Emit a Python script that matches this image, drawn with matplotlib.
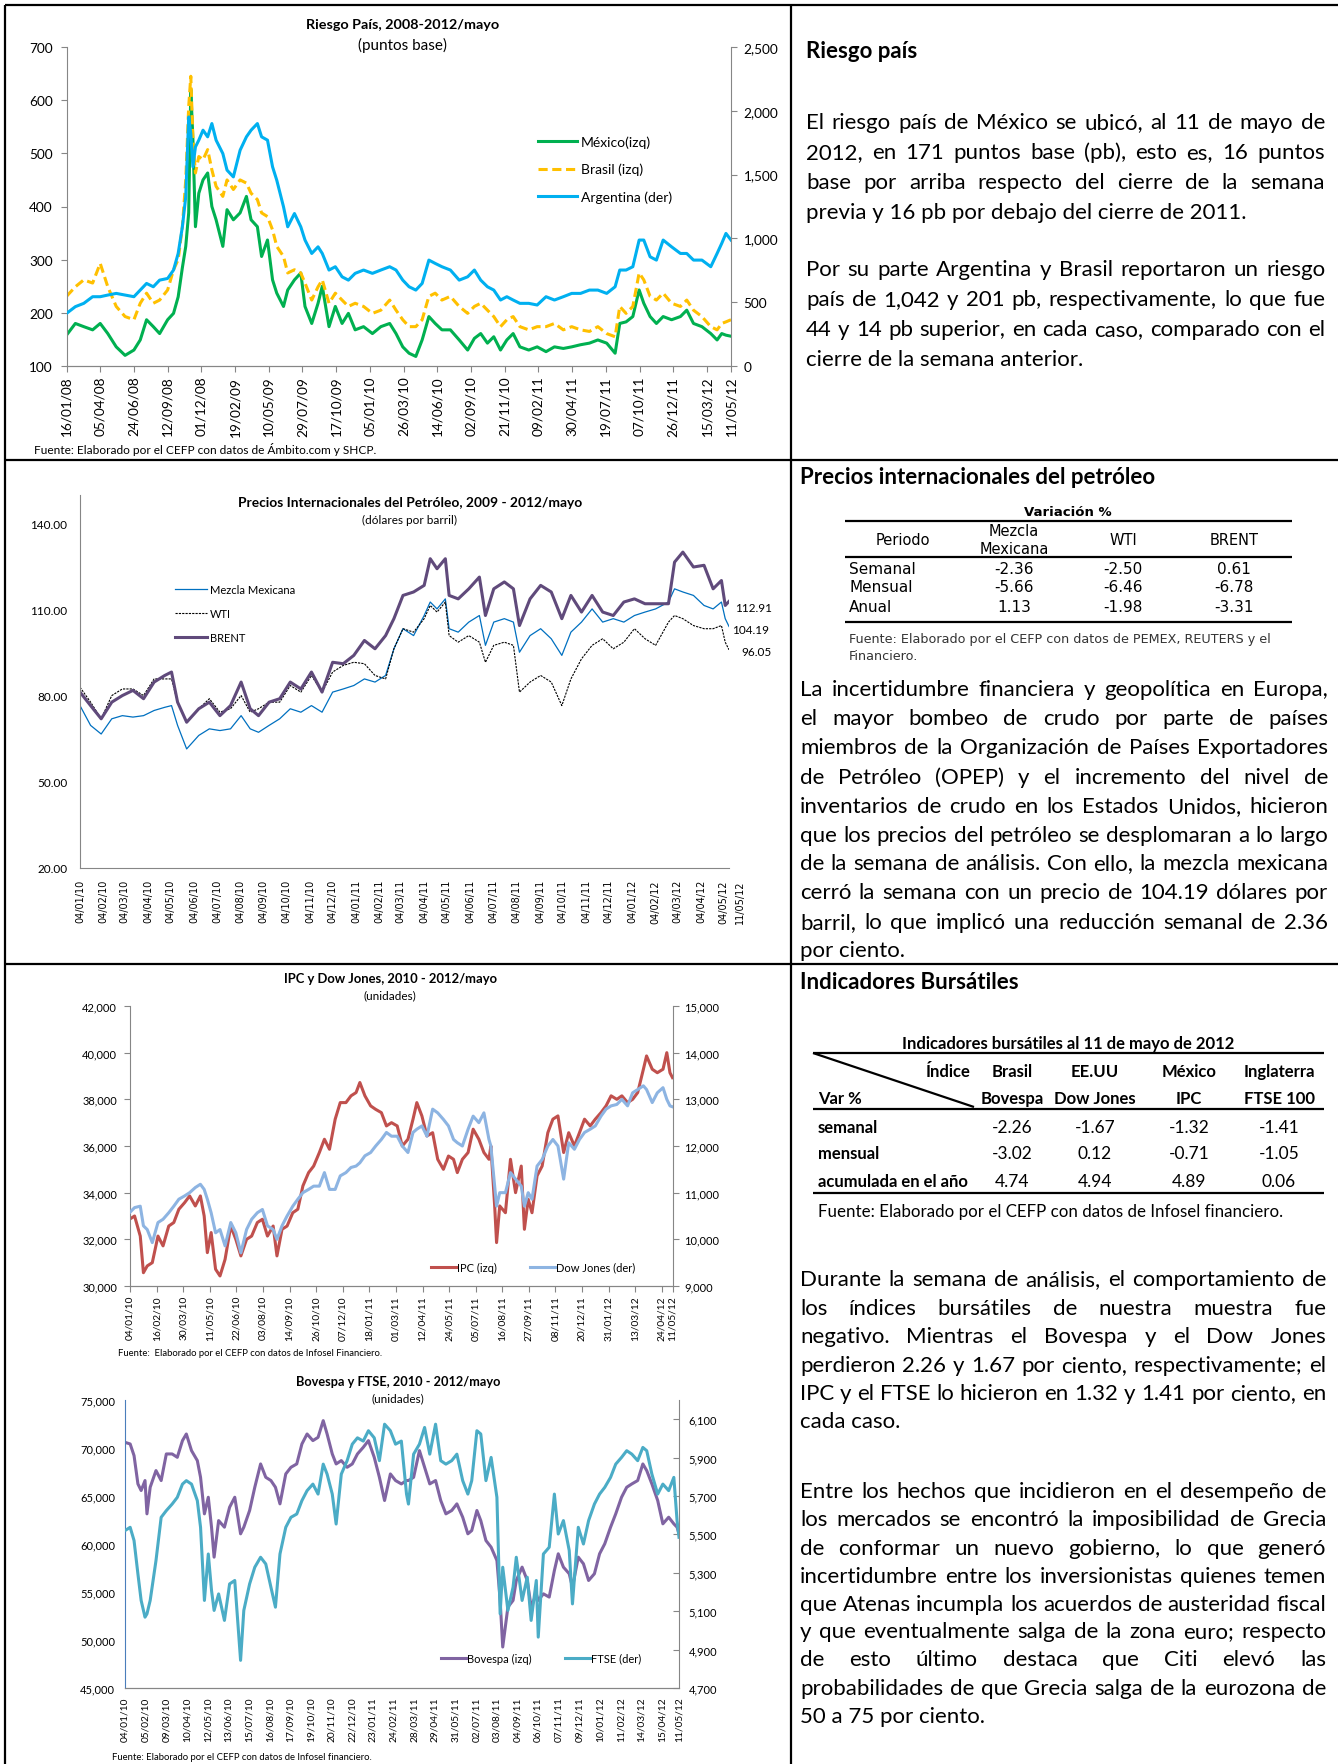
import numpy as np
import pandas as pd
import matplotlib
matplotlib.use('Agg')
import matplotlib.pyplot as plt
import matplotlib.transforms as mtransforms
from matplotlib.lines import Line2D
from matplotlib.ticker import FuncFormatter

W, H = 1338, 1765
GRIS = '#868686'
plt.rcParams.update({'font.family': 'Lato', 'font.size': 9, 'axes.linewidth': 0.8})

# ---------------- datos: riesgo pais (dias desde 16/01/08) ----------------
inicio_rp = '2008-01-16'
dias_rp = [0, 21, 41, 62, 80, 98, 118, 139, 160, 175, 190, 206, 221, 240, 254, 265, 275, 283, 290, 295,
           300, 306, 314, 324, 335, 345, 355, 371, 381, 396, 412, 427, 438, 453, 463, 477, 489, 499, 515, 525,
           541, 556, 566, 582, 597, 607, 623, 638, 654, 669, 685, 705, 726, 746, 767, 782, 798, 813, 829, 844,
           860, 875, 891, 911, 932, 952, 968, 983, 999, 1014, 1030, 1045, 1060, 1076, 1097, 1117, 1138, 1158, 1179, 1199,
           1220, 1241, 1261, 1282, 1302, 1313, 1328, 1344, 1359, 1370, 1385, 1400, 1416, 1436, 1457, 1472, 1488, 1508, 1529, 1544,
           1555, 1565, 1577]
mexico = [158, 180, 174, 168, 180, 161, 136, 120, 130, 149, 187, 174, 161, 187, 199, 230, 285, 325, 388, 620,
          526, 362, 425, 450, 463, 400, 375, 325, 394, 375, 388, 419, 375, 362, 306, 337, 262, 237, 212, 243,
          262, 275, 212, 180, 218, 250, 174, 212, 180, 199, 168, 174, 161, 174, 180, 161, 136, 124, 118, 149,
          193, 180, 168, 168, 149, 130, 152, 161, 143, 155, 130, 149, 161, 136, 130, 136, 127, 136, 133, 136,
          140, 143, 149, 143, 124, 180, 183, 193, 243, 218, 193, 180, 193, 187, 193, 205, 180, 174, 161, 149,
          161, 158, 156]
brasil = [231, 249, 262, 256, 293, 249, 212, 193, 187, 218, 237, 218, 224, 243, 281, 300, 362, 450, 588, 645,
          526, 463, 494, 488, 507, 469, 438, 419, 450, 432, 450, 444, 425, 413, 388, 381, 356, 325, 306, 275,
          281, 275, 256, 224, 249, 262, 218, 237, 224, 212, 218, 212, 199, 205, 224, 205, 187, 174, 174, 187,
          231, 237, 224, 231, 212, 199, 212, 218, 205, 193, 174, 187, 193, 174, 168, 174, 174, 180, 168, 174,
          168, 165, 174, 161, 155, 212, 199, 212, 275, 262, 231, 224, 237, 218, 212, 224, 205, 193, 174, 168,
          180, 183, 187]
argentina = [412, 465, 491, 543, 543, 556, 569, 556, 543, 595, 647, 621, 673, 686, 752, 882, 1091, 1326, 1952, 1822,
             1561, 1717, 1770, 1848, 1796, 1900, 1770, 1665, 1535, 1482, 1691, 1796, 1848, 1900, 1796, 1770, 1561, 1456, 1248, 1091,
             1195, 1091, 987, 882, 934, 882, 752, 778, 699, 673, 726, 752, 726, 752, 778, 752, 673, 621, 595, 647,
             830, 804, 778, 752, 673, 699, 752, 673, 621, 595, 517, 543, 517, 491, 491, 478, 543, 517, 543, 569,
             569, 595, 595, 569, 621, 752, 752, 778, 987, 987, 856, 830, 987, 934, 882, 882, 830, 830, 778, 882,
             961, 1039, 987]
ticks_rp = ['16/01/08', '05/04/08', '24/06/08', '12/09/08', '01/12/08', '19/02/09', '10/05/09', '29/07/09',
            '17/10/09', '05/01/10', '26/03/10', '14/06/10', '02/09/10', '21/11/10', '09/02/11', '30/04/11',
            '19/07/11', '07/10/11', '26/12/11', '15/03/12', '11/05/12']

# ---------------- datos: petroleo (dias desde 04/01/10) ----------------
inicio_pet = '2010-01-04'
dias_pet = [0, 14, 28, 42, 56, 70, 84, 98, 112, 121, 129, 141, 157, 171, 185, 199, 213, 225, 236, 250,
            264, 278, 292, 306, 320, 334, 348, 362, 376, 390, 404, 415, 427, 441, 455, 463, 472, 483, 488, 500,
            514, 528, 536, 547, 561, 573, 581, 595, 609, 623, 637, 649, 663, 677, 691, 705, 719, 733, 747, 761,
            778, 786, 797, 811, 825, 837, 848, 853, 858]
mezcla = [76.6, 69.7, 66.7, 72.0, 73.1, 72.6, 73.1, 74.9, 76.0, 76.6, 69.7, 61.5, 66.2, 68.5, 67.9, 68.5, 73.1, 68.5, 67.3, 69.7,
          72.0, 75.5, 74.3, 76.6, 74.3, 81.3, 82.4, 83.6, 85.9, 84.8, 87.1, 96.4, 103.4, 101.0, 108.0, 112.7, 110.3, 113.8, 103.4, 102.2,
          105.7, 108.0, 97.6, 105.7, 106.9, 105.7, 95.2, 101.0, 103.4, 99.9, 94.1, 102.2, 105.7, 110.3, 105.7, 106.9, 105.7, 108.0, 109.2, 110.3,
          112.7, 117.3, 116.2, 115.0, 111.5, 110.3, 112.7, 106.9, 104.19]
wti = [83.0, 77.8, 72.0, 80.1, 82.4, 82.4, 80.1, 85.9, 85.9, 85.9, 77.8, 70.8, 75.5, 79.0, 74.3, 75.5, 80.1, 74.3, 75.5, 77.8,
       77.8, 83.6, 81.3, 87.1, 81.3, 88.3, 90.6, 91.7, 91.2, 87.1, 85.9, 96.4, 103.4, 102.2, 106.9, 111.5, 109.2, 112.7, 101.0, 98.7,
       101.0, 98.7, 91.7, 97.6, 98.7, 97.6, 81.3, 84.8, 87.1, 84.8, 76.6, 85.9, 92.9, 97.6, 99.9, 96.4, 98.7, 103.4, 99.9, 97.6,
       105.7, 108.0, 106.9, 104.5, 103.4, 103.4, 104.5, 98.7, 96.05]
brent = [81.3, 76.6, 72.0, 77.8, 80.1, 81.9, 79.0, 84.8, 87.1, 88.3, 77.8, 70.8, 75.5, 77.8, 73.1, 76.6, 84.8, 75.5, 73.1, 77.8,
         79.0, 84.8, 82.4, 88.3, 81.3, 91.7, 91.2, 94.1, 99.3, 96.4, 101.0, 106.9, 115.0, 116.2, 118.5, 127.8, 124.3, 127.8, 115.0, 113.8,
         117.3, 121.4, 108.0, 117.3, 119.7, 117.3, 104.5, 113.8, 118.5, 116.2, 106.9, 115.0, 109.2, 115.0, 109.2, 108.0, 112.7, 113.8, 112.1, 112.1,
         112.1, 126.6, 130.1, 124.9, 125.5, 117.3, 120.2, 111.5, 112.91]
ticks_pet = ['04/01/10', '04/02/10', '04/03/10', '04/04/10', '04/05/10', '04/06/10', '04/07/10', '04/08/10',
             '04/09/10', '04/10/10', '04/11/10', '04/12/10', '04/01/11', '04/02/11', '04/03/11', '04/04/11',
             '04/05/11', '04/06/11', '04/07/11', '04/08/11', '04/09/11', '04/10/11', '04/11/11', '04/12/11',
             '04/01/12', '04/02/12', '04/03/12', '04/04/12', '04/05/12', '11/05/12']

# ---------------- datos: IPC y Dow Jones ----------------
dias_ipc = [0, 8, 17, 22, 28, 36, 45, 53, 62, 70, 78, 87, 95, 104, 112, 118, 123, 129, 136, 143,
            151, 160, 168, 176, 185, 193, 202, 210, 218, 227, 233, 241, 249, 258, 266, 274, 283, 291, 300, 308,
            316, 325, 333, 342, 350, 358, 364, 372, 381, 389, 398, 406, 414, 423, 431, 440, 448, 454, 462, 470,
            479, 487, 496, 504, 512, 518, 526, 535, 543, 552, 560, 568, 571, 577, 580, 585, 594, 602, 610, 619,
            624, 630, 636, 644, 652, 661, 669, 677, 686, 694, 703, 711, 719, 728, 736, 745, 753, 761, 770, 778,
            787, 795, 803, 812, 817, 826, 834, 843, 849, 854, 858]
ipc = [32860, 33000, 32140, 30570, 30860, 31000, 32140, 31720, 32570, 32720, 33290, 33570, 33860, 33430, 33860, 33000, 31430, 32290, 30720, 30430,
       31140, 32570, 32000, 31290, 32000, 32140, 32720, 32860, 32140, 32570, 31290, 32430, 32570, 33140, 33290, 34290, 34860, 35140, 35720, 36290,
       35860, 37150, 37860, 37860, 38150, 38290, 38720, 38150, 37720, 37570, 37430, 36860, 37000, 36860, 36000, 36290, 37150, 37860, 37290, 36430,
       36570, 35430, 35000, 35570, 35430, 34860, 35430, 35720, 36720, 36290, 35720, 35430, 36000, 33430, 31860, 33430, 33140, 35430, 34000, 35140,
       32430, 33720, 33140, 34720, 35140, 36570, 37150, 37290, 35720, 36570, 36000, 36570, 37150, 36860, 37150, 37430, 37720, 38150, 38000, 38150,
       37860, 38000, 38290, 39290, 39860, 39290, 39140, 39290, 40000, 39140, 38930]
dow = [10570, 10680, 10710, 10290, 10210, 9930, 10360, 10430, 10570, 10710, 10860, 10930, 11000, 11110, 11180, 11070, 10860, 10570, 10140, 10210,
       9860, 10360, 10140, 9710, 10210, 10430, 10570, 10640, 10290, 10210, 10000, 10290, 10500, 10710, 10860, 11000, 11070, 11140, 11140, 11430,
       11070, 11070, 11360, 11430, 11540, 11570, 11640, 11790, 11860, 12000, 12140, 12290, 12210, 12210, 12000, 11860, 12290, 12360, 12430, 12210,
       12790, 12710, 12570, 12430, 12140, 12070, 12000, 12360, 12640, 12500, 12710, 12140, 12000, 11140, 10710, 11000, 11000, 11430, 11290, 11140,
       10710, 11000, 10860, 11570, 11710, 12000, 12140, 12000, 11290, 12070, 11930, 12140, 12290, 12360, 12430, 12640, 12790, 12860, 12890, 13000,
       12860, 13140, 13210, 13290, 13210, 12930, 13140, 13250, 13000, 12860, 12840]
ticks_ipc = ['04/01/10', '16/02/10', '30/03/10', '11/05/10', '22/06/10', '03/08/10', '14/09/10', '26/10/10',
             '07/12/10', '18/01/11', '01/03/11', '12/04/11', '24/05/11', '05/07/11', '16/08/11', '27/09/11',
             '08/11/11', '20/12/11', '31/01/12', '13/03/12', '24/04/12', '11/05/12']

# ---------------- datos: Bovespa y FTSE ----------------
dias_bov = [0, 8, 14, 20, 25, 31, 34, 39, 48, 56, 64, 73, 81, 89, 95, 103, 112, 117, 123, 129,
            134, 138, 145, 154, 162, 170, 179, 184, 193, 201, 210, 218, 226, 233, 240, 249, 257, 266, 274, 282,
            291, 299, 307, 313, 321, 327, 335, 344, 352, 360, 369, 377, 386, 394, 402, 411, 419, 428, 436, 439,
            447, 456, 464, 472, 481, 489, 497, 506, 514, 523, 531, 537, 545, 551, 559, 567, 576, 581, 585, 593,
            601, 606, 615, 623, 629, 637, 640, 648, 657, 665, 671, 679, 688, 693, 702, 710, 718, 727, 735, 743,
            752, 760, 769, 777, 785, 794, 802, 808, 816, 825, 833, 842, 850, 855, 858]
bovespa = [70590, 70420, 69210, 66260, 65570, 66610, 63140, 65910, 67650, 66610, 69380, 69380, 69030, 70770, 71460, 69730, 68690, 66950, 63140, 64870,
           61750, 58630, 62440, 61750, 63830, 64870, 61060, 61750, 63490, 65910, 68340, 66950, 66610, 65910, 64180, 67300, 67990, 68340, 70420, 71460,
           70770, 71110, 72850, 71460, 69380, 68340, 68690, 67990, 68340, 69380, 70070, 70770, 69030, 66950, 64530, 67300, 66610, 66260, 66610, 66610,
           66950, 69730, 67990, 66260, 66610, 64530, 63140, 63490, 64180, 62790, 61060, 61400, 63490, 62440, 60360, 59670, 58280, 54120, 49270, 53430,
           54120, 56200, 57590, 56200, 53430, 54810, 54120, 54810, 54470, 57240, 58980, 57590, 56900, 55510, 58630, 57940, 56200, 56900, 58980, 60020,
           61750, 63140, 64870, 65910, 66260, 66610, 68340, 67650, 66260, 64530, 62100, 62790, 62100, 61750, 61060]
ftse = [5520, 5537, 5468, 5294, 5156, 5069, 5086, 5156, 5364, 5589, 5624, 5658, 5693, 5762, 5780, 5762, 5676, 5537, 5156, 5398,
        5208, 5104, 5190, 5052, 5242, 5260, 4844, 5104, 5242, 5329, 5381, 5346, 5225, 5121, 5398, 5537, 5589, 5606, 5676, 5728,
        5762, 5710, 5866, 5814, 5710, 5554, 5814, 5884, 5970, 6003, 5986, 6040, 6003, 5884, 6074, 6040, 5970, 5986, 5710, 5658,
        5918, 5970, 6057, 5918, 6074, 5884, 5866, 5884, 5918, 5780, 5710, 5780, 6040, 6023, 5780, 5901, 5693, 5086, 5329, 5104,
        5225, 5381, 5156, 5277, 5052, 5260, 4965, 5398, 5433, 5710, 5502, 5572, 5416, 5138, 5537, 5450, 5572, 5658, 5710, 5745,
        5797, 5866, 5901, 5936, 5918, 5884, 5953, 5936, 5814, 5710, 5762, 5728, 5797, 5572, 5485]
ticks_bov = ['04/01/10', '05/02/10', '09/03/10', '10/04/10', '12/05/10', '13/06/10', '15/07/10', '16/08/10',
             '17/09/10', '19/10/10', '20/11/10', '22/12/10', '23/01/11', '24/02/11', '28/03/11', '29/04/11',
             '31/05/11', '02/07/11', '03/08/11', '04/09/11', '06/10/11', '07/11/11', '09/12/11', '10/01/12',
             '11/02/12', '14/03/12', '15/04/12', '11/05/12']

# ---------------- tablas ----------------
pet_filas = ['Semanal', 'Mensual', 'Anual']
pet_mezcla = ['-2.36', '-5.66', '1.13']
pet_wti = ['-2.50', '-6.46', '-1.98']
pet_brent = ['0.61', '-6.78', '-3.31']

bur_paises = ['Brasil', 'EE.UU', 'México', 'Inglaterra']
bur_indices = ['Bovespa', 'Dow Jones', 'IPC', 'FTSE 100']
bur_filas = ['semanal', 'mensual', 'acumulada en el año']
bur_valores = [['-2.26', '-1.67', '-1.32', '-1.41'],
               ['-3.02', '0.12', '-0.71', '-1.05'],
               ['4.74', '4.94', '4.89', '0.06']]

fig = plt.figure(figsize=(W / 100, H / 100), dpi=100)
fig.patch.set_facecolor('white')
renderer = fig.canvas.get_renderer()


def caja(x0, y0, x1, y1):
    return [x0 / W, 1 - y1 / H, (x1 - x0) / W, (y1 - y0) / H]


def texto(x, y, s, **kw):
    return fig.text(x / W, 1 - y / H, s, **kw)


def linea(x0, y0, x1, y1, lw=1.5, color='black'):
    fig.add_artist(Line2D([x0 / W, x1 / W], [1 - y0 / H, 1 - y1 / H], transform=fig.transFigure,
                          color=color, lw=lw, solid_capstyle='butt'))


def fechas(inicio, dias):
    return pd.Timestamp(inicio) + pd.to_timedelta(dias, unit='D')


def eje_fechas(ax, etiquetas, size, pad, largo, familia='Lato'):
    ax.set_xticks(pd.to_datetime(etiquetas, format='%d/%m/%y'))
    ax.set_xticklabels(etiquetas, rotation=90, fontsize=size, family=familia)
    ax.tick_params(axis='x', pad=pad, length=largo, color=GRIS)


def leyenda(ax, handles, x, y, size, **kw):
    ax.legend(handles=handles, loc='upper left', bbox_to_anchor=(x / W, 1 - y / H),
              bbox_transform=fig.transFigure, frameon=False, borderpad=0, borderaxespad=0,
              fontsize=size, **kw)


miles = FuncFormatter(lambda v, p: f'{v:,.0f}')

# ================= grafica 1: riesgo pais =================
ax1 = fig.add_axes(caja(66.5, 48, 731, 367))
ax1b = ax1.twinx()
x_rp = fechas(inicio_rp, dias_rp)
l1, = ax1.plot(x_rp, mexico, color='#00B050', lw=2.2, label='México(izq)')
l2, = ax1.plot(x_rp, brasil, color='#FFC000', lw=2.2, ls=(0, (3, 1.5)), label='Brasil (izq)')
l3, = ax1b.plot(x_rp, argentina, color='#00B0F0', lw=2.2, label='Argentina (der)')
ax1.set_xlim(pd.Timestamp('2008-01-16'), pd.Timestamp('2012-05-11'))
ax1.set_ylim(100, 700)
ax1b.set_ylim(0, 2500)
ax1.set_yticks(range(100, 701, 100))
ax1b.set_yticks(range(0, 2501, 500))
ax1b.yaxis.set_major_formatter(miles)
eje_fechas(ax1, ticks_rp, 9.8, 3, 4)
for a in (ax1, ax1b):
    for s in a.spines.values():
        s.set_color(GRIS)
    a.spines['top'].set_visible(False)
ax1.spines['right'].set_visible(False)
ax1b.spines['left'].set_visible(False)
ax1.tick_params(axis='y', length=4, color=GRIS, labelsize=9.8, pad=6)
ax1b.tick_params(axis='y', length=4, color=GRIS, labelsize=9.8, pad=5)
leyenda(ax1b, [l1, l2, l3], 538, 136, 10, handlelength=2.8, handletextpad=0.3, labelspacing=1.1)
texto(403, 25, 'Riesgo País, 2008-2012/mayo', fontsize=10.4, fontweight='bold', ha='center', va='center')
texto(403, 45, '(puntos base)', fontsize=11, ha='center', va='center')
texto(34, 449, 'Fuente: Elaborado por el CEFP con datos de Ámbito.com y SHCP.', fontsize=8.6, va='center')

# ================= grafica 2: petroleo =================
ax2 = fig.add_axes(caja(80, 496, 729, 869))
x_pet = fechas(inicio_pet, dias_pet)
p1, = ax2.plot(x_pet, mezcla, color='#0070C0', lw=0.9, label='Mezcla Mexicana')
p2, = ax2.plot(x_pet, wti, color='black', lw=0.8, ls=(0, (2, 1)), label='WTI')
p3, = ax2.plot(x_pet, brent, color='#604A7B', lw=2.2, label='BRENT')
ax2.set_xlim(pd.Timestamp('2010-01-04'), pd.Timestamp('2012-05-11'))
ax2.set_ylim(20, 150)
ax2.set_yticks([20, 50, 80, 110, 140])
ax2.yaxis.set_major_formatter(FuncFormatter(lambda v, p: f'{v:.2f}'))
eje_fechas(ax2, ticks_pet, 7, 8, 0, familia='DejaVu Sans')
ax2.tick_params(axis='y', length=0, labelsize=8.5, pad=9)
for s in ('top', 'right'):
    ax2.spines[s].set_visible(False)
for s in ('left', 'bottom'):
    ax2.spines[s].set_color(GRIS)
ult = ax2.get_xticklabels()[-1]
ult.set_transform(ult.get_transform() + mtransforms.ScaledTranslation(11 / 100, 0, fig.dpi_scale_trans))
for serie, dx, dy in ((brent, 6, -6), (mezcla, 3, -3), (wti, 12, -2)):
    ax2.annotate(f'{serie[-1]:.2f}', xy=(x_pet[-1], serie[-1]), xytext=(dx, dy), textcoords='offset pixels',
                 fontsize=8.5, va='center', ha='left')
leyenda(ax2, [p1, p2, p3], 175, 584.5, 8, handlelength=2.9, handletextpad=0.27, labelspacing=1.2)
texto(410, 503, 'Precios Internacionales del Petróleo, 2009 - 2012/mayo', fontsize=9.9, fontweight='bold',
      ha='center', va='center')
texto(410, 520, '(dólares por barril)', fontsize=8.5, ha='center', va='center')

# ================= grafica 3: IPC y Dow Jones =================
ax3 = fig.add_axes(caja(129.5, 1007, 672.5, 1287))
ax3b = ax3.twinx()
x_ipc = fechas(inicio_pet, dias_ipc)
i1, = ax3.plot(x_ipc, ipc, color='#C0504D', lw=2.2, label='IPC (izq)')
i2, = ax3b.plot(x_ipc, dow, color='#8DB4E2', lw=2.2, label='Dow Jones (der)')
ax3.set_xlim(pd.Timestamp('2010-01-04'), pd.Timestamp('2012-05-11'))
ax3.set_ylim(30000, 42000)
ax3b.set_ylim(9000, 15000)
ax3.set_yticks(range(30000, 42001, 2000))
ax3b.set_yticks(range(9000, 15001, 1000))
ax3.yaxis.set_major_formatter(miles)
ax3b.yaxis.set_major_formatter(miles)
eje_fechas(ax3, ticks_ipc, 7.3, 2.5, 4)
for a in (ax3, ax3b):
    for s in a.spines.values():
        s.set_color(GRIS)
    a.spines['top'].set_visible(False)
ax3.spines['right'].set_visible(False)
ax3b.spines['left'].set_visible(False)
ax3.tick_params(axis='y', length=4, color=GRIS, labelsize=8, pad=5)
ax3b.tick_params(axis='y', length=4, color=GRIS, labelsize=8, pad=4.5)
leyenda(ax3b, [i1, i2], 431, 1262.5, 8, ncol=2, handlelength=2.25, handletextpad=0.1, columnspacing=3.0)
texto(390, 979, 'IPC y Dow Jones, 2010 - 2012/mayo', fontsize=9.4, fontweight='bold', ha='center', va='center')
texto(390, 996, '(unidades)', fontsize=8.5, ha='center', va='center')
texto(118, 1354, 'Fuente:  Elaborado por el CEFP con datos de Infosel Financiero.', fontsize=6.8, va='center')

# ================= grafica 4: Bovespa y FTSE =================
ax4 = fig.add_axes(caja(125, 1401, 679, 1689))
ax4b = ax4.twinx()
x_bov = fechas(inicio_pet, dias_bov)
b1, = ax4.plot(x_bov, bovespa, color='#8064A2', lw=2.2, label='Bovespa (izq)')
b2, = ax4b.plot(x_bov, ftse, color='#4BACC6', lw=2.2, label='FTSE (der)')
ax4.set_xlim(pd.Timestamp('2010-01-04'), pd.Timestamp('2012-05-11'))
ax4.set_ylim(45000, 75000)
ax4b.set_ylim(4700, 6200)
ax4.set_yticks(range(45000, 75001, 5000))
ax4b.set_yticks(range(4700, 6101, 200))
ax4.yaxis.set_major_formatter(miles)
ax4b.yaxis.set_major_formatter(miles)
eje_fechas(ax4, ticks_bov, 7.3, 6, 0)
for a in (ax4, ax4b):
    for s in a.spines.values():
        s.set_color(GRIS)
    a.spines['top'].set_visible(False)
ax4.spines['right'].set_visible(False)
ax4b.spines['left'].set_visible(False)
ax4.spines['left'].set_color('#4A7EBB')
ax4.tick_params(axis='y', length=0, labelsize=8, pad=7)
ax4b.tick_params(axis='y', length=4, direction='in', color=GRIS, labelsize=8, pad=7)
leyenda(ax4b, [b1, b2], 441, 1653.5, 8, ncol=2, handlelength=2.25, handletextpad=0.1, columnspacing=3.0)
texto(398, 1382, 'Bovespa y FTSE, 2010 - 2012/mayo', fontsize=9.2, fontweight='bold', ha='center', va='center')
texto(398, 1399, '(unidades)', fontsize=8.5, ha='center', va='center')
texto(112, 1758, 'Fuente: Elaborado por el CEFP con datos de Infosel financiero.', fontsize=6.8, va='center')


# ================= columna de texto =================
CUERPO = 16


def parrafo(lineas, x0, x1, centros, size=CUERPO):
    for i, (ln, yc) in enumerate(zip(lineas, centros)):
        yb = yc + 7
        if i == len(lineas) - 1:
            texto(x0, yb, ln, fontsize=size, va='baseline')
            continue
        palabras = ln.split()
        tam = size
        while True:
            arts = [texto(x0, yb, p, fontsize=tam, va='baseline') for p in palabras]
            anchos = [a.get_window_extent(renderer).width for a in arts]
            hueco = (x1 - x0 - sum(anchos)) / (len(palabras) - 1)
            if hueco >= 3.5 or tam < 10:
                break
            for a in arts:
                a.remove()
            tam -= 0.25
        x = x0
        for a, w in zip(arts, anchos):
            a.set_x(x / W)
            x += w + hueco


texto(806, 52, 'Riesgo país', fontsize=CUERPO, fontweight='bold', va='center')
parrafo(['El riesgo país de México se ubicó, al 11 de mayo de',
         '2012, en 171 puntos base (pb), esto es, 16 puntos',
         'base por arriba respecto del cierre de la semana',
         'previa y 16 pb por debajo del cierre de 2011.'], 806, 1325, [122, 152, 182, 212])
parrafo(['Por su parte Argentina y Brasil reportaron un riesgo',
         'país de 1,042 y 201 pb, respectivamente, lo que fue',
         '44 y 14 pb superior, en cada caso, comparado con el',
         'cierre de la semana anterior.'], 806, 1325, [269, 299, 329, 359])

# tabla petroleo
texto(800, 478, 'Precios internacionales del petróleo', fontsize=CUERPO, fontweight='bold', va='center')
TF = 'DejaVu Sans'
texto(1068, 513, 'Variación %', family=TF, fontsize=9.5, fontweight='bold', ha='center', va='center')
linea(845, 522, 1292, 522, lw=1.6)
texto(903, 541, 'Periodo', family=TF, fontsize=10.5, ha='center', va='center')
texto(1014, 532, 'Mezcla', family=TF, fontsize=10.5, ha='center', va='center')
texto(1014, 550, 'Mexicana', family=TF, fontsize=10.5, ha='center', va='center')
texto(1123, 541, 'WTI', family=TF, fontsize=10.5, ha='center', va='center')
texto(1234, 541, 'BRENT', family=TF, fontsize=10.5, ha='center', va='center')
linea(845, 558, 1292, 558, lw=1.6)
for fila, a, b, c, y in zip(pet_filas, pet_mezcla, pet_wti, pet_brent, [569, 588, 607]):
    texto(849, y, fila, family=TF, fontsize=11, va='center')
    texto(1014, y, a, family=TF, fontsize=11, ha='center', va='center')
    texto(1123, y, b, family=TF, fontsize=11, ha='center', va='center')
    texto(1234, y, c, family=TF, fontsize=11, ha='center', va='center')
linea(845, 623, 1292, 623, lw=1.6)
texto(849, 640, 'Fuente: Elaborado por el CEFP con datos de PEMEX, REUTERS y el', family=TF, fontsize=9.2,
      color='#333333', va='center')
texto(849, 657, 'Financiero.', family=TF, fontsize=9.2, color='#333333', va='center')
parrafo(['La incertidumbre financiera y geopolítica en Europa,',
         'el mayor bombeo de crudo por parte de países',
         'miembros de la Organización de Países Exportadores',
         'de Petróleo (OPEP) y el incremento del nivel de',
         'inventarios de crudo en los Estados Unidos, hicieron',
         'que los precios del petróleo se desplomaran a lo largo',
         'de la semana de análisis. Con ello, la mezcla mexicana',
         'cerró la semana con un precio de 104.19 dólares por',
         'barril, lo que implicó una reducción semanal de 2.36',
         'por ciento.'], 800, 1328, [689, 718, 747, 777, 806, 835, 863, 892, 922, 950])

# tabla bursatil
texto(800, 983, 'Indicadores Bursátiles', fontsize=CUERPO, fontweight='bold', va='center')
texto(1068, 1044, 'Indicadores bursátiles al 11 de mayo de 2012', fontsize=12, fontweight='bold',
      ha='center', va='center')
linea(813, 1054, 1324, 1054, lw=1.6)
linea(813, 1054, 974, 1108, lw=1.6)
texto(971, 1072, 'Índice', fontsize=12, fontweight='bold', ha='right', va='center')
texto(818, 1099, 'Var %', fontsize=12, fontweight='bold', va='center')
cols = [1012, 1095, 1189, 1279]
for xc, pais, ind in zip(cols, bur_paises, bur_indices):
    texto(xc, 1072, pais, fontsize=12, fontweight='bold', ha='center', va='center')
    texto(xc, 1099, ind, fontsize=12, fontweight='bold', ha='center', va='center')
linea(813, 1110, 1324, 1110, lw=1.6)
for fila, vals, y in zip(bur_filas, bur_valores, [1128, 1154, 1182]):
    texto(818, y, fila, fontsize=12, fontweight='bold', va='center')
    for xc, v in zip(cols, vals):
        texto(xc, y, v, fontsize=12.5, ha='center', va='center')
linea(813, 1194, 1324, 1194, lw=1.6)
texto(818, 1212, 'Fuente: Elaborado por el CEFP con datos de Infosel financiero.', fontsize=12.2, va='center')
parrafo(['Durante la semana de análisis, el comportamiento de',
         'los índices bursátiles de nuestra muestra fue',
         'negativo. Mientras el Bovespa y el Dow Jones',
         'perdieron 2.26 y 1.67 por ciento, respectivamente; el',
         'IPC y el FTSE lo hicieron en 1.32 y 1.41 por ciento, en',
         'cada caso.'], 800, 1326, [1279, 1308, 1336, 1365, 1393, 1421])
parrafo(['Entre los hechos que incidieron en el desempeño de',
         'los mercados se encontró la imposibilidad de Grecia',
         'de conformar un nuevo gobierno, lo que generó',
         'incertidumbre entre los inversionistas quienes temen',
         'que Atenas incumpla los acuerdos de austeridad fiscal',
         'y que eventualmente salga de la zona euro; respecto',
         'de esto último destaca que Citi elevó las',
         'probabilidades de que Grecia salga de la eurozona de',
         '50 a 75 por ciento.'], 800, 1326, [1491, 1519, 1548, 1576, 1604, 1631, 1659, 1688, 1716])

# ================= marcos =================
linea(5, 6, W, 6, lw=1.6)
linea(5, 6, 5, H, lw=1.6)
linea(791, 6, 791, H, lw=1.6)
linea(5, 461, W, 461, lw=1.6)
linea(5, 965, W, 965, lw=1.6)

fig.savefig('out.png', dpi=100)
